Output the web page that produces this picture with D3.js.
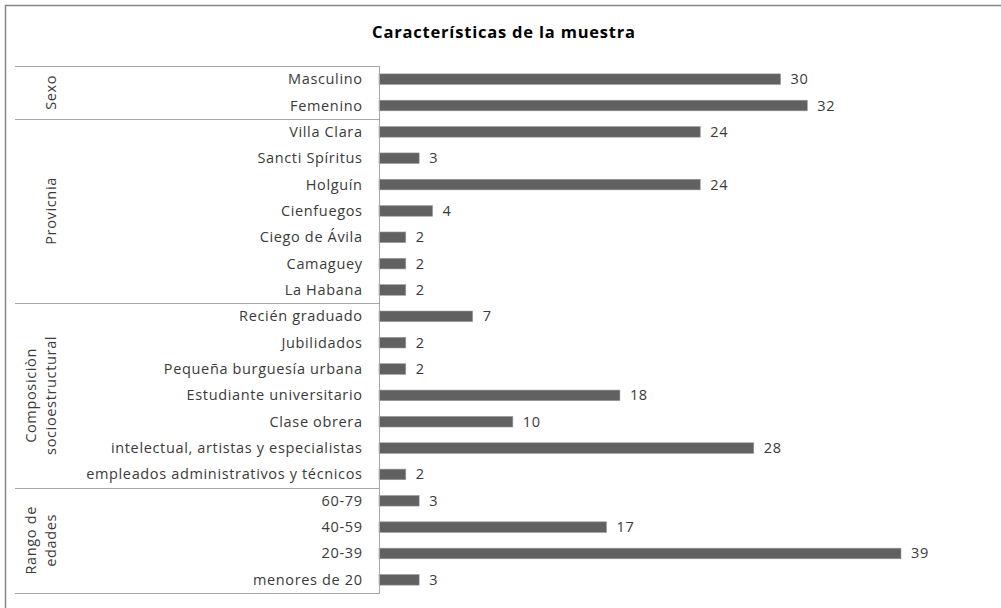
<!DOCTYPE html>
<html><head><meta charset="utf-8">
<script src="https://cdn.jsdelivr.net/npm/d3@7"></script>
<style>body{margin:0;background:#fff}svg{display:block}</style>
</head><body>
<svg id="c" width="1001" height="608"></svg>
<script>
const title = "Características de la muestra";
const categories = ["Masculino","Femenino","Villa Clara","Sancti Spíritus","Holguín","Cienfuegos","Ciego de Ávila","Camaguey","La Habana","Recién graduado","Jubilidados","Pequeña burguesía urbana","Estudiante universitario","Clase obrera","intelectual, artistas y especialistas","empleados administrativos y técnicos","60-79","40-59","20-39","menores de 20"];
const values = [30,32,24,3,24,4,2,2,2,7,2,2,18,10,28,2,3,17,39,3];
const groupNames = [["Sexo"],["Provicnia"],["Composiciòn","socioestructural"],["Rango de","edades"]];
const groupSizes = [2,7,7,4];

(function(){
const svg = d3.select("#c");
const font = "'Open Sans', sans-serif";
const fs = 14.5, ls = 0.65;
const pLeft = 379, pTop = 66, pBottom = 593;
const x = d3.scaleLinear().domain([0, 39]).range([pLeft, 901]);
const yb = d3.scaleBand().domain(categories).range([pTop, pBottom]);

svg.append("path").attr("d","M5.5,608 L5.5,5.5 L1001,5.5").attr("fill","none").attr("stroke","#868686").attr("stroke-width",1.5);

svg.append("text").attr("x",504).attr("y",38).attr("text-anchor","middle")
  .attr("font-family",font).attr("font-weight","bold").attr("font-size",16.5).attr("letter-spacing",0.8).attr("fill","#000").text(title);

svg.selectAll("rect.bar").data(values).join("rect").attr("class","bar")
  .attr("x", x(0)).attr("y",(d,i)=>yb(categories[i]) + yb.bandwidth()/2 - 5.3)
  .attr("width",d=>x(d)-x(0)).attr("height",10.6)
  .attr("fill","#616161").attr("stroke","#9a9a9a").attr("stroke-width",0.6);

svg.selectAll("text.val").data(values).join("text").attr("class","val")
  .attr("x",d=>x(d)+10).attr("y",(d,i)=>yb(categories[i]) + yb.bandwidth()/2 + 5)
  .attr("font-family",font).attr("font-size",fs).attr("letter-spacing",ls).attr("fill","#3a3a3a").text(d=>d);

svg.selectAll("text.cat").data(categories).join("text").attr("class","cat")
  .attr("x",pLeft-17+ls).attr("y",d=>yb(d)+yb.bandwidth()/2 + 5)
  .attr("text-anchor","end").attr("font-family",font).attr("font-size",fs).attr("letter-spacing",ls).attr("fill","#3a3a3a").text(d=>d);

svg.append("line").attr("x1",pLeft+0.5).attr("x2",pLeft+0.5).attr("y1",pTop).attr("y2",pBottom+1).attr("stroke","#a6a6a6");

let idx = 0;
const lines = [pTop];
groupSizes.forEach(s=>{ idx += s; lines.push(yb(categories[idx-1]) + yb.bandwidth()); });
svg.selectAll("line.sep").data(lines).join("line").attr("class","sep")
  .attr("x1",15).attr("x2",pLeft).attr("y1",d=>Math.round(d)+0.5).attr("y2",d=>Math.round(d)+0.5)
  .attr("stroke","#a6a6a6");

groupNames.forEach((g,i)=>{
  const cy = (lines[i]+lines[i+1])/2;
  const n = g.length;
  g.forEach((t,j)=>{
    const cx = (n === 1 ? 51 : 41) + (j - (n-1)/2)*20;
    svg.append("text").attr("transform",`translate(${cx+5},${cy}) rotate(-90)`)
      .attr("text-anchor","middle").attr("font-family",font).attr("font-size",fs).attr("letter-spacing",ls).attr("fill","#3a3a3a").text(t);
  });
});
})();
</script>
</body></html>
